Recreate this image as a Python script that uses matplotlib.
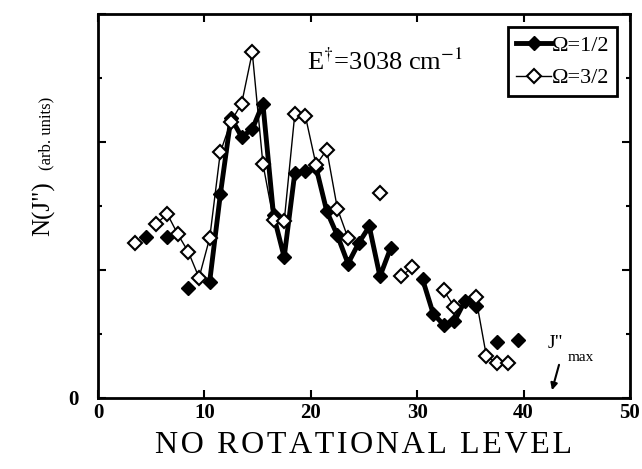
import numpy as np
import matplotlib
matplotlib.use("Agg")
import matplotlib.pyplot as plt
from matplotlib.ticker import MultipleLocator

plt.rcParams['font.family'] = ['Liberation Serif', 'DejaVu Serif']
plt.rcParams['mathtext.fontset'] = 'stix'

nan = np.nan
# rotational level J" (half-integer)
J = np.arange(3.5, 40.0, 1.0)

# Omega = 1/2 (filled diamonds); nan = no point
n_half = [nan, 1.26, nan, 1.26, nan, 0.86, nan, 0.91, 1.59, 2.19,
          2.04, 2.10, 2.30, 1.43, 1.10, 1.76, 1.77, 1.80, 1.46, 1.27,
          1.05, 1.21, 1.34, 0.95, 1.17, nan, nan, 0.93, 0.66, 0.57,
          0.60, 0.76, 0.72, nan, 0.44, nan, 0.45]

# Omega = 3/2 (open diamonds)
n_3half = [1.21, nan, 1.36, 1.44, 1.28, 1.14, 0.94, 1.25, 1.92, 2.16,
           2.30, 2.70, 1.83, 1.39, 1.38, 2.22, 2.20, 1.82, 1.94, 1.48,
           1.25, nan, nan, 1.60, nan, 0.95, 1.02, nan, nan, 0.84,
           0.71, nan, 0.79, 0.33, 0.27, 0.27, nan]

fig = plt.figure(figsize=(6.42, 4.69), dpi=100)
ax = fig.add_axes([0.1526, 0.1514, 0.8287, 0.8187])

ax.plot(J, n_half, color='black', lw=3.5, marker='D', ms=7,
        mfc='black', mec='black', label='Ω=1/2', zorder=3)
ax.plot(J, n_3half, color='black', lw=1.0, marker='D', ms=7,
        mfc='white', mec='black', mew=1.5, label='Ω=3/2', zorder=4)

ax.set_xlim(0, 50)
ax.set_ylim(0, 3)
ax.set_xticks([0, 10, 20, 30, 40, 50])
ax.set_yticks([0, 1, 2, 3])
ax.set_yticklabels(['0', '', '', ''])
ax.yaxis.set_minor_locator(MultipleLocator(0.5))
ax.tick_params(direction='in', which='both', top=True, right=True,
               labelsize=15, width=1.5)
ax.tick_params(which='major', length=6)
ax.tick_params(which='minor', length=3)
ax.tick_params(axis='y', pad=14)
for lab in ax.get_xticklabels() + ax.get_yticklabels():
    lab.set_fontweight('bold')
for s in ax.spines.values():
    s.set_linewidth(2)

hs = '\u200a'
ax.set_xlabel(hs.join('NO ROTATIONAL LEVEL'), fontsize=23, labelpad=6)
fig.text(0.068, 0.555, 'N(J")', rotation=90, fontsize=18,
         ha='center', va='center')
fig.text(0.072, 0.715, '(arb. units)', rotation=90, fontsize=12,
         ha='center', va='center')

ax.text(0.54, 0.875, r'E$^{\dagger}$=3038 cm$^{-1}$', transform=ax.transAxes,
        fontsize=19, ha='center', va='center')

leg = ax.legend(loc='upper right', fontsize=16, handlelength=1.6,
                handletextpad=0.0, borderpad=0.35, labelspacing=0.55,
                fancybox=False, framealpha=1, edgecolor='black',
                borderaxespad=0.6)
leg.get_frame().set_linewidth(2)

ax.annotate('', xy=(42.6, 0.04), xytext=(43.4, 0.28),
            arrowprops=dict(arrowstyle='-|>', color='black', lw=1.5))
ax.text(42.3, 0.36, 'J"', fontsize=14, ha='left', va='bottom')
ax.text(44.1, 0.32, 'max', fontsize=11, ha='left', va='center')

fig.savefig('out.png', dpi=100)
